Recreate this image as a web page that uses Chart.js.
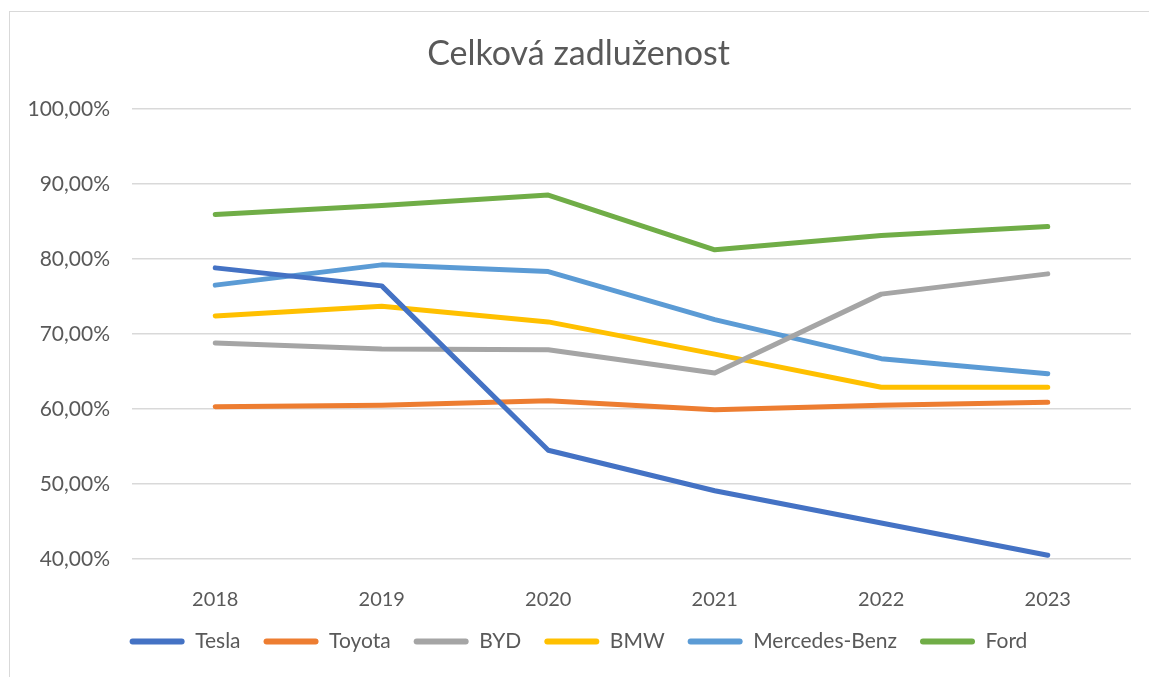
<!DOCTYPE html>
<html>
<head>
<meta charset="utf-8">
<script src="https://cdn.jsdelivr.net/npm/chart.js@4/dist/chart.umd.min.js"></script>
<style>
  html, body { margin: 0; padding: 0; background: #fff; }
  #wrap { position: relative; width: 1149px; height: 677px; }
  #frame { position: absolute; left: 9px; top: 11px; width: 1160px; height: 700px; border: 1px solid #d9d9d9; box-sizing: border-box; pointer-events: none; }
  canvas { position: absolute; left: 0; top: 0; }
</style>
</head>
<body>
<div id="wrap">
  <canvas id="chart" width="1149" height="677"></canvas>
  <div id="frame"></div>
</div>
<script>
// ===== data =====
const years = ["2018", "2019", "2020", "2021", "2022", "2023"];
const tesla    = [78.8, 76.4, 54.5, 49.1, 44.8, 40.5];
const toyota   = [60.3, 60.5, 61.1, 59.9, 60.5, 60.9];
const byd      = [68.8, 68.0, 67.9, 64.8, 75.3, 78.0];
const bmw      = [72.4, 73.7, 71.6, 67.3, 62.9, 62.9];
const mercedes = [76.5, 79.2, 78.3, 71.9, 66.7, 64.7];
const ford     = [85.9, 87.1, 88.5, 81.2, 83.1, 84.3];

const yTicks = [40, 50, 60, 70, 80, 90, 100];

const FONT = "Lato, 'Open Sans', sans-serif";
const TEXT = "#595959";

function line(label, data, color) {
  return {
    label: label,
    data: data,
    borderColor: color,
    backgroundColor: color,
    borderWidth: 5,
    pointRadius: 0,
    tension: 0,
    borderCapStyle: "round",
    borderJoinStyle: "round"
  };
}

new Chart(document.getElementById("chart"), {
  type: "line",
  data: {
    labels: years,
    datasets: [
      line("Tesla", tesla, "#4472C4"),
      line("Toyota", toyota, "#ED7D31"),
      line("BYD", byd, "#A5A5A5"),
      line("BMW", bmw, "#FFC000"),
      line("Mercedes-Benz", mercedes, "#5B9BD5"),
      line("Ford", ford, "#70AD47")
    ]
  },
  options: {
    responsive: false,
    animation: false,
    layout: { padding: { top: 10, left: 26, right: 18, bottom: 15 } },
    plugins: {
      title: {
        display: true,
        text: "Celková zadluženost",
        color: TEXT,
        font: { family: FONT, size: 34, weight: "normal" },
        padding: { top: 24, bottom: 34 }
      },
      legend: {
        position: "bottom",
        labels: {
          color: TEXT,
          font: { family: FONT, size: 21 },
          boxWidth: 55,
          boxHeight: 6,
          padding: 23,
          generateLabels: (chart) => chart.data.datasets.map((ds, i) => ({
            text: ds.label,
            fillStyle: ds.borderColor,
            strokeStyle: ds.borderColor,
            lineWidth: 0,
            borderRadius: 3,
            datasetIndex: i,
            fontColor: TEXT
          })),
          useBorderRadius: true,
          borderRadius: 3
        }
      },
      tooltip: { enabled: false }
    },
    scales: {
      x: {
        offset: true,
        grid: { display: false },
        border: { display: false },
        ticks: { color: TEXT, font: { family: FONT, size: 20 }, padding: 21 },
        afterFit: (s) => { s.height = 49; }
      },
      y: {
        min: 40,
        max: 100,
        afterBuildTicks: (s) => { s.ticks = yTicks.map(v => ({ value: v })); },
        afterFit: (s) => { s.width = 106; },
        grid: { color: "#d9d9d9", lineWidth: 1.5, drawTicks: false },
        border: { display: false },
        ticks: {
          color: TEXT,
          font: { family: FONT, size: 21 },
          padding: 22,
          callback: (v) => v.toFixed(2).replace(".", ",") + "%"
        }
      }
    }
  }
});
</script>
</body>
</html>
